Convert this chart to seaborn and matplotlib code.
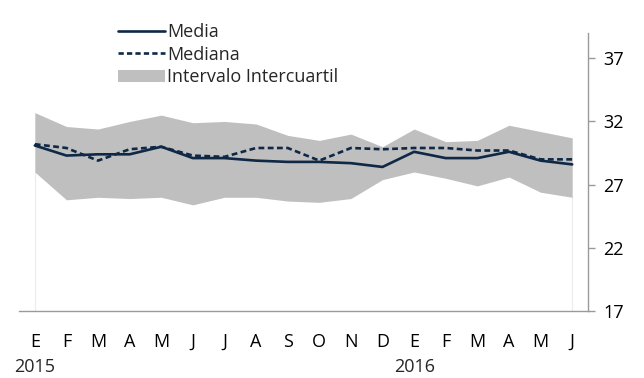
import numpy as np
import pandas as pd
import matplotlib
matplotlib.use("Agg")
import matplotlib.pyplot as plt
import seaborn as sns
from matplotlib.lines import Line2D
from matplotlib.patches import Patch

months = ["E", "F", "M", "A", "M", "J", "J", "A", "S", "O", "N", "D",
          "E", "F", "M", "A", "M", "J"]
years = ["2015", "2016"]
media = [30.1, 29.3, 29.4, 29.4, 30.0, 29.1, 29.1, 28.9, 28.8, 28.8,
         28.7, 28.4, 29.6, 29.1, 29.1, 29.6, 28.9, 28.6]
mediana = [30.2, 29.9, 28.9, 29.8, 30.0, 29.3, 29.2, 29.9, 29.9, 28.9,
           29.9, 29.8, 29.9, 29.9, 29.7, 29.7, 29.0, 29.0]
q_sup = [32.7, 31.6, 31.4, 32.0, 32.5, 31.9, 32.0, 31.8, 30.9, 30.5,
         31.0, 30.0, 31.4, 30.4, 30.5, 31.7, 31.2, 30.7]
q_inf = [28.0, 25.8, 26.0, 25.9, 26.0, 25.4, 26.0, 26.0, 25.7, 25.6,
         25.9, 27.4, 28.0, 27.5, 26.9, 27.6, 26.4, 26.0]
y_ticks = [17, 22, 27, 32, 37]

navy = "#0f2846"
band = "#bfbfbf"
axis_gray = "#9a9a9a"
fs = 13

sns.set_theme(style="white")
plt.rcParams["font.family"] = ["Open Sans", "DejaVu Sans"]

x = np.arange(len(months))
df = pd.DataFrame({"x": np.concatenate([x, x]),
                   "valor": media + mediana,
                   "serie": ["Media"] * len(x) + ["Mediana"] * len(x)})

fig = plt.figure(figsize=(6.44, 3.78), dpi=100)
ax = fig.add_axes([19 / 644, 1 - 311 / 378, (588 - 19) / 644, (311 - 33) / 378])

ax.fill_between(x, q_inf, q_sup, color=band, lw=0, zorder=1)
for xi, lo in ((x[0], q_inf[0]), (x[-1], q_inf[-1])):
    ax.plot([xi, xi], [17, lo], color="#ececec", lw=0.8, zorder=0.5)

sns.lineplot(data=df, x="x", y="valor", hue="serie", style="serie",
             palette={"Media": navy, "Mediana": navy},
             dashes={"Media": "", "Mediana": (2.2, 1.3)},
             linewidth=1.9, legend=False, ax=ax, zorder=3)

ax.set_xlim(-0.5, len(months) - 0.5)
ax.set_ylim(17, 39)
ax.set_xlabel("")
ax.set_ylabel("")

for side in ("top", "left"):
    ax.spines[side].set_visible(False)
for side in ("bottom", "right"):
    ax.spines[side].set_color(axis_gray)
    ax.spines[side].set_linewidth(1.0)

ax.yaxis.tick_right()
ax.set_yticks(y_ticks)
ax.tick_params(axis="y", which="major", direction="out", length=5, width=1,
               color=axis_gray, labelsize=fs, pad=6, labelcolor="black")

ax.set_xticks(x)
ax.set_xticklabels(months)
ax.set_xticks(np.arange(-0.5, len(months)), minor=True)
ax.tick_params(axis="x", which="major", length=0, labelsize=fs, pad=15.5,
               labelcolor="black")
ax.tick_params(axis="x", which="minor", direction="out", length=6, width=1,
               color=axis_gray)

trans = matplotlib.transforms.blended_transform_factory(ax.transData, ax.transAxes)
ax.text(0, -0.2, years[0], transform=trans, ha="center", va="center",
        fontsize=fs)
ax.text(12, -0.2, years[1], transform=trans, ha="center", va="center",
        fontsize=fs)

handles = [Line2D([], [], color=navy, lw=1.9),
           Line2D([], [], color=navy, lw=1.9, dashes=(2.0, 1.2)),
           Patch(facecolor=band, edgecolor="none")]
leg = fig.legend(handles, ["Media", "Mediana", "Intervalo Intercuartil"],
                 loc="upper left", bbox_to_anchor=(111 / 644, 1 - 16 / 378),
                 frameon=False, fontsize=fs, handlelength=2.6,
                 handletextpad=0.1, labelspacing=0.25, borderaxespad=0)

fig.savefig("out.png", dpi=100)
